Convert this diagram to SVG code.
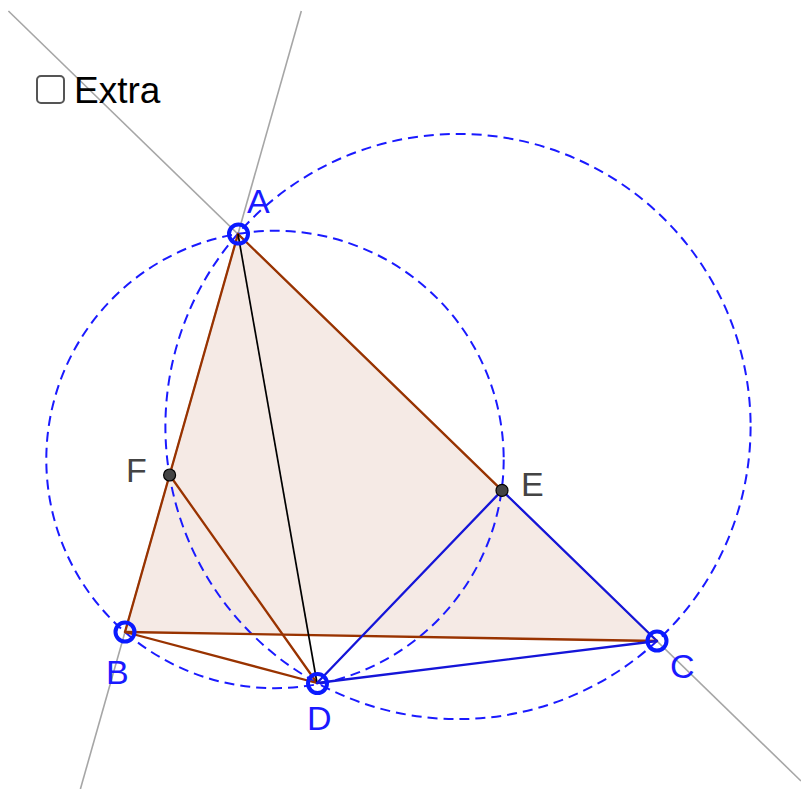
<svg xmlns="http://www.w3.org/2000/svg" width="801" height="789" viewBox="0 0 801 789">
  <style>
    .gline { stroke: #a6a6a6; stroke-width: 1.6; fill: none; }
    .circ { stroke: #1a1aff; stroke-width: 2; fill: none; stroke-dasharray: 10 6; }
    .brown { stroke: #993300; stroke-width: 2.3; fill: none; stroke-linecap: round; }
    .blue { stroke: #1515d8; stroke-width: 2.3; fill: none; stroke-linecap: round; }
    .black { stroke: #000000; stroke-width: 1.7; fill: none; }
    .ring { stroke: #0a1aff; stroke-width: 4; fill: none; }
    .dot { fill: #444444; stroke: #000000; stroke-width: 1.2; }
    .lblue { font-family: "Liberation Sans", Arial, sans-serif; font-size: 34px; fill: #1a1aff; }
    .lgray { font-family: "Liberation Sans", Arial, sans-serif; font-size: 34px; fill: #444444; }
  </style>
  <rect width="801" height="789" fill="#ffffff"/>
  <g id="triangle-fill">
    <polygon points="238,234 125,632 657,641" fill="#993300" fill-opacity="0.1" stroke="none"/>
  </g>
  <g id="lines">
    <line class="gline" x1="301.3" y1="11" x2="80.4" y2="789"/>
    <line class="gline" x1="8.4" y1="11" x2="801" y2="781"/>
  </g>
  <g id="circles">
    <circle class="circ" cx="275" cy="459.5" r="228.7"/>
    <circle class="circ" cx="458" cy="426.5" r="292.6"/>
  </g>
  <g id="connectors">
    <line class="brown" x1="238" y1="234" x2="169.6" y2="475"/>
    <line class="brown" x1="169.6" y1="475" x2="125" y2="632"/>
    <line class="brown" x1="238" y1="234" x2="502" y2="490.4"/>
    <line class="blue" x1="502" y1="490.4" x2="657" y2="641"/>
    <line class="brown" x1="125" y1="632" x2="657" y2="641"/>
    <line class="brown" x1="125" y1="632" x2="317" y2="683"/>
    <line class="brown" x1="169.6" y1="475" x2="317" y2="683"/>
    <line class="black" x1="238" y1="234" x2="317" y2="683"/>
    <line class="blue" x1="502" y1="490.4" x2="317" y2="683"/>
    <line class="blue" x1="317" y1="683" x2="657" y2="641"/>
  </g>
  <g id="F">
    <circle class="dot" cx="169.6" cy="475" r="6"/>
    <text class="lgray" x="126" y="482">F</text>
  </g>
  <g id="E">
    <circle class="dot" cx="502" cy="490.4" r="6"/>
    <text class="lgray" x="521" y="496">E</text>
  </g>
  <g id="A">
    <circle class="ring" cx="238.5" cy="234" r="9.5"/>
    <text class="lblue" x="247" y="213">A</text>
  </g>
  <g id="B">
    <circle class="ring" cx="125" cy="632" r="9.5"/>
    <text class="lblue" x="106" y="684">B</text>
  </g>
  <g id="C">
    <circle class="ring" cx="657" cy="641" r="9.5"/>
    <text class="lblue" x="670" y="678">C</text>
  </g>
  <g id="D">
    <circle class="ring" cx="317.5" cy="683.5" r="9.5"/>
    <text class="lblue" x="307" y="730">D</text>
  </g>
  <g id="checkbox">
    <rect x="37" y="76" width="27" height="27" rx="4" ry="4" fill="#ffffff" stroke="#555555" stroke-width="2"/>
    <text x="74" y="103" font-family="Liberation Sans, Arial, sans-serif" font-size="37" fill="#000000">Extra</text>
  </g>
</svg>
